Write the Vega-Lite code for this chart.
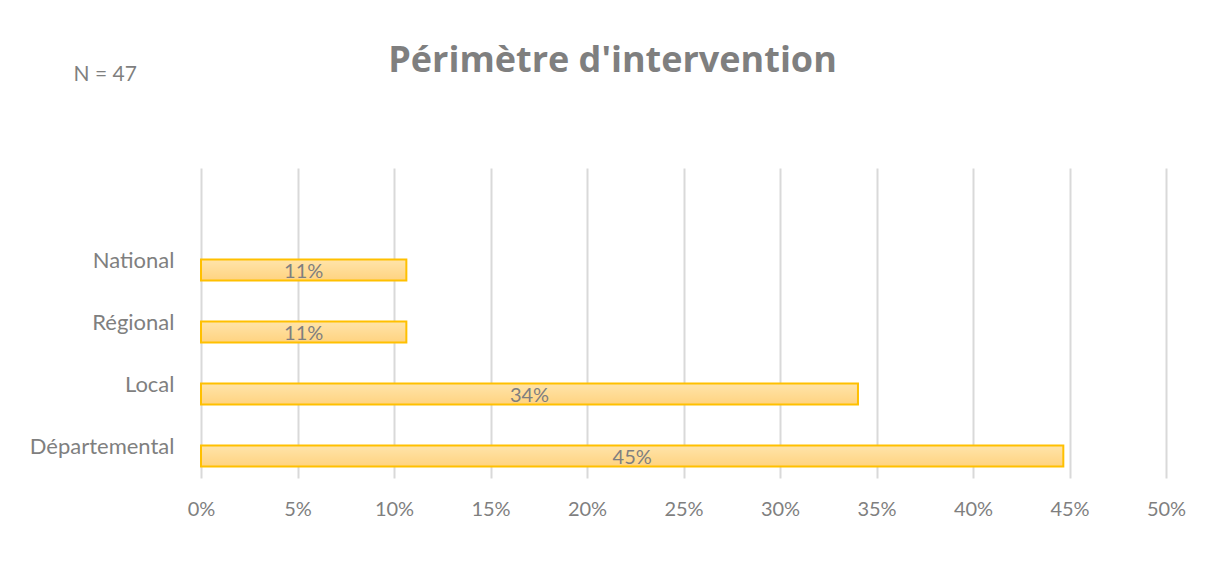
{
  "$schema": "https://vega.github.io/schema/vega-lite/v6.json",
  "width": 965,
  "height": 310,
  "autosize": "none",
  "padding": {"left": 201, "top": 168, "right": 48, "bottom": 107},
  "background": "white",
  "config": {
    "font": "Lato",
    "view": {"stroke": null}
  },
  "title": {
    "text": "Périmètre d'intervention",
    "fontSize": 36,
    "fontWeight": "bold",
    "color": "#7F7F7F",
    "anchor": "middle",
    "dx": -71,
    "offset": 0,
    "dy": 17,
    "font": "Open Sans"
  },
  "data": {
    "values": [
      {"perimetre": "National", "pct": 0.1064},
      {"perimetre": "Régional", "pct": 0.1064},
      {"perimetre": "Local", "pct": 0.3404},
      {"perimetre": "Départemental", "pct": 0.4468}
    ]
  },
  "encoding": {
    "y": {
      "field": "perimetre",
      "type": "nominal",
      "sort": null,
      "scale": {"domain": [" ", "National", "Régional", "Local", "Départemental"], "paddingInner": 0.66, "paddingOuter": 0.33, "align": 0.72},
      "axis": {
        "title": "N = 47",
        "titleAngle": 0,
        "titleX": -128,
        "titleY": -88,
        "titleAlign": "left",
        "titleBaseline": "alphabetic",
        "titleFontSize": 21,
        "titleFontWeight": "normal",
        "titleColor": "#7F7F7F",
        "titleFont": "Lato",
        "domain": false,
        "ticks": false,
        "labelPadding": 27,
        "labelOffset": -9,
        "labelFontSize": 22,
        "labelColor": "#7F7F7F",
        "labelFont": "Lato"
      }
    }
  },
  "layer": [
    {
      "mark": {
        "type": "bar",
        "stroke": "#FFC000",
        "strokeWidth": 2,
        "color": {
          "gradient": "linear",
          "x1": 0, "y1": 0, "x2": 0, "y2": 1,
          "stops": [
            {"offset": 0, "color": "#FFE4AA"},
            {"offset": 1, "color": "#FFD380"}
          ]
        }
      },
      "encoding": {
        "x": {
          "field": "pct",
          "type": "quantitative",
          "scale": {"domain": [0, 0.5], "nice": false},
          "axis": {
            "title": null,
            "format": ".0%",
            "values": [0, 0.05, 0.1, 0.15, 0.2, 0.25, 0.3, 0.35, 0.4, 0.45, 0.5],
            "domain": false,
            "ticks": false,
            "grid": true,
            "gridColor": "#D9D9D9",
            "gridWidth": 2,
            "labelPadding": 21,
            "labelFontSize": 20,
            "labelColor": "#7F7F7F",
            "labelFont": "Lato",
            "labelFlush": false
          }
        }
      }
    },
    {
      "mark": {"type": "text", "fontSize": 20, "color": "#7F7F7F", "baseline": "middle", "dy": 2, "font": "Lato"},
      "encoding": {
        "x": {
          "field": "pct",
          "type": "quantitative",
          "scale": {"domain": [0, 1], "nice": false},
          "axis": null
        },
        "text": {"field": "pct", "type": "quantitative", "format": ".0%"}
      }
    }
  ],
  "resolve": {"scale": {"x": "independent"}}
}
